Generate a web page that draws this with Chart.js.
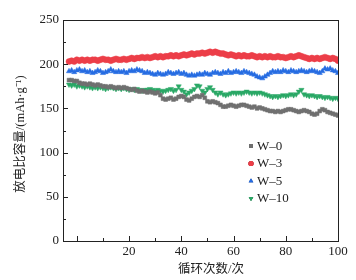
<!DOCTYPE html>
<html><head><meta charset="utf-8">
<script src="https://cdn.jsdelivr.net/npm/chart.js@4/dist/chart.umd.min.js"></script>
<style>html,body{margin:0;padding:0;background:#fff}#wrap{width:356px;height:280px}</style>
</head><body><div id="wrap"><canvas id="c" width="356" height="280"></canvas></div>
<script>
// cycle numbers as they sit on the reference axis
const cycles = Array.from({length:104}, (_, i) => i - 3);
const seriesNames = ['W\u20130', 'W\u20133', 'W\u20135', 'W\u201310'];
const w0 = [182,182,181,181,179,178,178,177,178,177, 176,177,176,175,175,174,175,174,173,174,
  173,174,173,172,171,172,170,169,170,169, 168,169,168,167,168,165,161,160,161,162,
  160,161,163,164,163,160,159,161,163,164, 163,165,162,158,157,158,157,156,154,152,
  152,153,154,153,152,153,154,154,153,152, 151,152,150,151,150,149,148,147,147,146,
  147,146,147,148,149,149,148,147,146,147, 148,147,146,144,143,144,147,149,148,146, 145,144,143,142];
const w3 = [203,204,203,205,204,205,204,205,204,205, 205,204,205,206,205,205,204,205,206,205,
  205,206,205,206,207,206,207,207,208,207, 208,207,208,209,208,209,208,209,209,210,
  209,210,209,210,211,210,211,212,211,212, 212,213,212,213,214,213,214,213,212,212,
  211,210,211,210,209,210,209,210,209,209, 210,209,208,209,208,209,208,209,208,208,
  209,208,208,207,208,209,208,209,210,209, 208,207,206,207,206,207,206,207,208,207, 206,207,206,204];
const w5 = [192,193,191,193,194,192,193,191,192,190, 191,193,192,190,191,192,194,192,191,192,
  191,192,190,192,193,192,194,193,192,190, 191,190,189,188,190,189,188,189,191,190,
  189,190,191,189,190,188,187,188,187,188, 189,188,190,189,188,190,191,190,189,191,
  190,192,190,191,192,191,190,192,191,190, 189,188,186,185,184,186,188,190,192,191,
  192,191,193,192,191,193,192,191,192,193, 192,191,192,193,192,191,190,192,195,194, 195,193,192,190];
const w10 = [177,176,177,175,176,175,174,175,174,173, 174,173,174,173,172,173,174,173,172,173,
  172,173,172,171,172,171,172,171,170,171, 171,172,171,170,171,170,169,170,171,172,
  170,171,175,171,169,166,168,170,172,176, 175,170,168,172,174,171,168,166,168,166,
  165,166,167,168,167,168,167,168,169,168, 167,168,167,168,167,166,165,164,163,164,
  163,164,165,164,165,166,165,166,169,171, 166,165,164,165,164,163,164,163,162,163, 162,161,162,161];
const yTicks = [0, 50, 100, 150, 200, 250];
const xTickLabels = [20, 40, 60, 80, 100];
const xTitle = '循环次数/次';
const yTitle = '放电比容量/(mAh·g⁻¹)';

const colors = ['rgb(112,112,112)', 'rgb(236,62,72)', 'rgb(38,108,226)', 'rgb(42,168,102)'];
const styles = ['rect', 'circle', 'triangle', 'triangle'];
const rots = [0, 0, 0, 180];
const serif = '"Liberation Serif", "Noto Sans CJK SC", serif';
const textCol = '#222';

const mk = (arr) => arr.map((v, i) => ({x: cycles[i], y: v}));
const all = [w0, w3, w5, w10];
const datasets = all.map((arr, k) => ({
  label: seriesNames[k], data: mk(arr), showLine: false,
  pointStyle: styles[k], rotation: rots[k], pointRadius: k === 0 ? 2.7 : 3,
  backgroundColor: colors[k], borderColor: colors[k], borderWidth: 0.5
}));

const framePlugin = {
  id: 'frame',
  afterDraw(chart) {
    const {ctx, chartArea: a, scales: {x, y}} = chart;
    ctx.save();
    ctx.strokeStyle = '#222'; ctx.lineWidth = 1;
    ctx.strokeRect(a.left + 0.5, a.top + 0.5, a.right - a.left, a.bottom - a.top);
    // inward ticks
    ctx.beginPath();
    for (let v = 0; v <= 100; v += 10) {
      const px = Math.round(x.getPixelForValue(v)) + 0.5;
      const len = v % 20 === 0 ? 5 : 3;
      ctx.moveTo(px, a.bottom); ctx.lineTo(px, a.bottom - len);
    }
    for (let v = 0; v <= 250; v += 25) {
      const py = Math.round(y.getPixelForValue(v)) + 0.5;
      const len = v % 50 === 0 ? 5 : 3;
      ctx.moveTo(a.left, py); ctx.lineTo(a.left + len, py);
    }
    ctx.stroke();
    // axis titles
    ctx.fillStyle = textCol;
    ctx.font = '12.5px ' + serif;
    ctx.textAlign = 'center'; ctx.textBaseline = 'middle';
    ctx.fillText(xTitle, 211, 270);
    ctx.save();
    ctx.translate(21, 134); ctx.rotate(-Math.PI / 2);
    ctx.fillText(yTitle, 0, 0);
    ctx.restore();
    // legend
    const lx = 251, ly0 = 146, dy = 17.5;
    ctx.font = '13px ' + serif; ctx.textAlign = 'left';
    seriesNames.forEach((n, k) => {
      const cy = ly0 + k * dy;
      Chart.helpers.drawPoint(ctx, {pointStyle: styles[k], rotation: rots[k], radius: 2.6, borderWidth: 0},
        lx, cy);
      ctx.fillStyle = colors[k];
      ctx.beginPath();
      Chart.helpers.drawPoint(ctx, {pointStyle: styles[k], rotation: rots[k], radius: 2.6, borderWidth: 0}, lx, cy);
      ctx.fill();
      ctx.fillStyle = textCol;
      ctx.fillText(n, lx + 6, cy + 0.5);
    });
    ctx.restore();
  }
};

new Chart(document.getElementById('c'), {
  type: 'scatter',
  data: {datasets},
  options: {
    responsive: false, animation: false,
    layout: {padding: {left: 0, right: 18, top: 20, bottom: 0}},
    plugins: {legend: {display: false}, tooltip: {enabled: false}},
    scales: {
      x: {
        type: 'linear', min: -5.3, max: 100,
        grid: {display: false, drawTicks: false}, border: {display: false},
        afterBuildTicks: (s) => { s.ticks = xTickLabels.map(v => ({value: v})); },
        afterFit: (s) => { s.height = 39; },
        ticks: {padding: 3, color: textCol, font: {family: serif, size: 13}, maxRotation: 0, autoSkip: false}
      },
      y: {
        min: 0, max: 250,
        grid: {display: false, drawTicks: false}, border: {display: false},
        afterBuildTicks: (s) => { s.ticks = yTicks.map(v => ({value: v})); },
        afterFit: (s) => { s.width = 63; },
        ticks: {padding: 4, color: textCol, font: {family: serif, size: 13}}
      }
    }
  },
  plugins: [framePlugin]
});
</script>
</body></html>
